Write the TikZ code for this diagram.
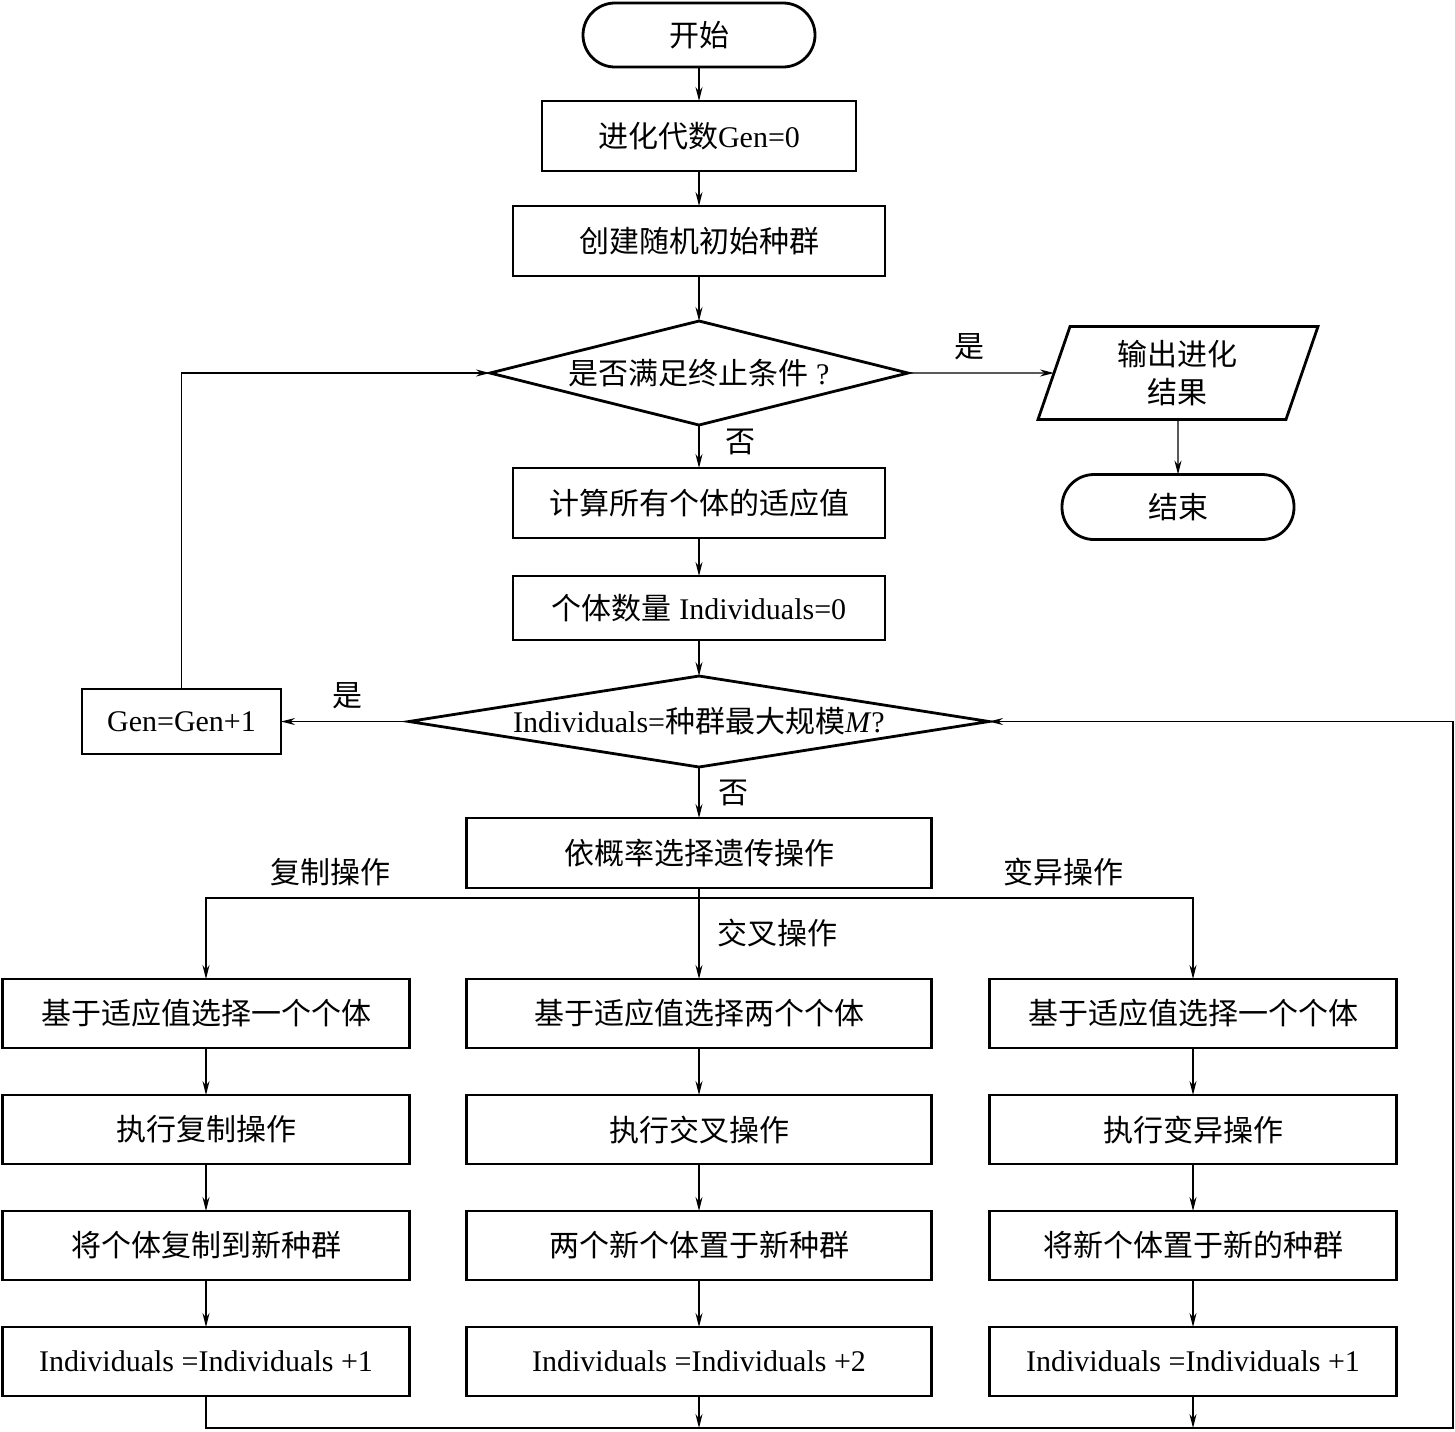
\documentclass[tikz,border=0pt]{standalone}
\usepackage{fontspec}
\setmainfont{Liberation Serif}
\newfontfamily\cjk{Noto Sans CJK SC}
\usetikzlibrary{calc,positioning,shapes.geometric,arrows.meta}
\newcommand{\zh}[1]{{\cjk #1}}

\begin{document}
\begin{tikzpicture}[
        font=\fontsize{15}{19}\selectfont,
        term/.style={rectangle, rounded corners=16pt, draw, line width=1.4pt, outer sep=0pt, minimum width=116pt, minimum height=32pt, align=center},
        proc/.style={rectangle, draw, line width=1.4pt, outer sep=0pt, minimum width=186pt, minimum height=35pt, inner sep=2pt, align=center},
        colbox/.style={proc, minimum height=34.5pt},
        decide/.style={diamond, draw, line width=1.4pt, outer sep=0pt, inner sep=0pt, align=center},
        io/.style={trapezium, trapezium left angle=64, trapezium right angle=116, trapezium stretches body, draw, line width=1.4pt, outer sep=0pt, minimum width=140pt, minimum height=46.5pt, inner sep=0pt, align=center},
        lbl/.style={inner sep=1pt},
        arrow/.style={line width=0.7pt, -{Stealth[length=7pt,width=3.5pt]}},
        line/.style={line width=0.7pt}
    ]
        \useasboundingbox (0,0) rectangle (727.5pt,-715.5pt);

        % Main column
        \node (start) [term] at (349.5pt,-17.5pt) {\zh{开始}};
        \node (gen0) [proc, minimum width=157pt, below=17pt of start] {\zh{进化代数}Gen=0};
        \node (create) [proc, below=17.5pt of gen0] {\zh{创建随机初始种群}};
        \node (dia1) [decide, aspect=4, minimum width=209pt, minimum height=52pt, below=22.5pt of create] {\zh{是否满足终止条件} ?};
        \node (calc) [proc, below=21.5pt of dia1] {\zh{计算所有个体的适应值}};
        \node (count) [proc, minimum height=32pt, below=19pt of calc] {\zh{个体数量} Individuals=0};
        \node (dia2) [decide, aspect=6.4, minimum width=290pt, minimum height=45.5pt, below=18pt of count] {Individuals=\zh{种群最大规模}\textit{M}?};
        \node (select) [proc, minimum width=232.5pt, below=25.5pt of dia2] {\zh{依概率选择遗传操作}};

        % Side nodes
        \node (out) [io, right=73pt of dia1] {\zh{输出进化}\\\zh{结果}};
        \node (finish) [term, minimum height=32.5pt, below=27.5pt of out] {\zh{结束}};
        \node (gen1) [proc, minimum width=99.5pt, minimum height=32.5pt, left=64pt of dia2] {Gen=Gen+1};

        % Crossover column
        \node (csel) [colbox, minimum width=232.5pt, below=45.5pt of select] {\zh{基于适应值选择两个个体}};
        \node (cdo) [colbox, minimum width=232.5pt, below=23.5pt of csel] {\zh{执行交叉操作}};
        \node (cnew) [colbox, minimum width=232.5pt, below=23.5pt of cdo] {\zh{两个新个体置于新种群}};
        \node (cadd) [colbox, minimum width=232.5pt, below=23.5pt of cnew] {Individuals =Individuals +2};

        % Copy column
        \node (rsel) [colbox, minimum width=203.5pt, left=28.5pt of csel] {\zh{基于适应值选择一个个体}};
        \node (rdo) [colbox, minimum width=203.5pt, below=23.5pt of rsel] {\zh{执行复制操作}};
        \node (rnew) [colbox, minimum width=203.5pt, below=23.5pt of rdo] {\zh{将个体复制到新种群}};
        \node (radd) [colbox, minimum width=203.5pt, below=23.5pt of rnew] {Individuals =Individuals +1};

        % Mutation column
        \node (msel) [colbox, minimum width=203.5pt, right=29pt of csel] {\zh{基于适应值选择一个个体}};
        \node (mdo) [colbox, minimum width=203.5pt, below=23.5pt of msel] {\zh{执行变异操作}};
        \node (mnew) [colbox, minimum width=203.5pt, below=23.5pt of mdo] {\zh{将新个体置于新的种群}};
        \node (madd) [colbox, minimum width=203.5pt, below=23.5pt of mnew] {Individuals =Individuals +1};

        % Main flow
        \draw [arrow] (start) -- (gen0);
        \draw [arrow] (gen0) -- (create);
        \draw [arrow] (create) -- (dia1);
        \draw [arrow] (dia1) -- node[lbl, pos=0.4, right=12pt] {\zh{否}} (calc);
        \draw [arrow] (dia1) -- node[lbl, pos=0.42, above=5pt] {\zh{是}} (out);
        \draw [arrow] (out) -- (finish);
        \draw [arrow] (calc) -- (count);
        \draw [arrow] (count) -- (dia2);
        \draw [arrow] (dia2) -- node[lbl, pos=0.5, right=8.5pt] {\zh{否}} (select);
        \draw [arrow] (dia2) -- node[lbl, pos=0.48, above=5pt] {\zh{是}} (gen1);
        \draw [arrow] (gen1.north) |- (dia1.west);

        % Branches
        \draw [line] (select.south) -- ++(0,-5pt) coordinate (split);
        \draw [arrow] (split) -| (rsel.north);
        \draw [arrow] (split) -| (msel.north);
        \draw [arrow] (split) -- node[lbl, pos=0.43, right=8pt] {\zh{交叉操作}} (csel.north);
        \node (lblcopy) [lbl] at ($(split)+(-184.5pt,13pt)$) {\zh{复制操作}};
        \node (lblmut) [lbl] at ($(split)+(182pt,13pt)$) {\zh{变异操作}};

        \foreach \c in {r,c,m} {
            \draw [arrow] (\c sel) -- (\c do);
            \draw [arrow] (\c do) -- (\c new);
            \draw [arrow] (\c new) -- (\c add);
        }

        % Back to the size check
        \coordinate (loopbr) at (726.5pt,-714pt);
        \draw [arrow] (radd.south) |- (loopbr) |- (dia2.east);
        \draw [arrow] (cadd.south) -- (cadd.south |- loopbr);
        \draw [arrow] (madd.south) -- (madd.south |- loopbr);
    \end{tikzpicture}
\end{document}
